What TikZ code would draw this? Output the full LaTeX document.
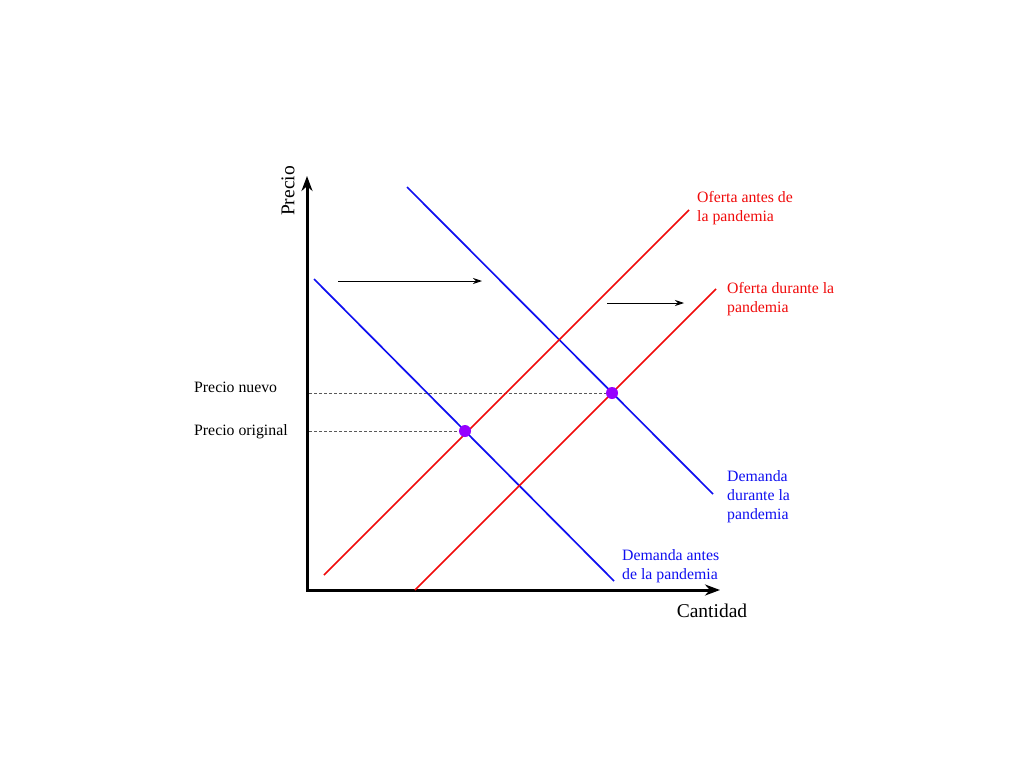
\documentclass[tikz,border=0pt]{standalone}
\usepackage{fontspec}
\setmainfont{Liberation Serif}
\usetikzlibrary{arrows.meta}
\definecolor{supred}{RGB}{240,10,10}
\definecolor{demblue}{RGB}{15,15,240}
\definecolor{eqpurple}{RGB}{150,0,255}
\tikzset{
  axis/.style={line width=3pt, {Stealth[length=15pt,width=11pt]}-{Stealth[length=15pt,width=11pt]}},
  supply/.style={draw=supred, line width=1.7pt},
  demand/.style={draw=demblue, line width=1.7pt},
  shiftarrow/.style={line width=0.9pt, -{Stealth[length=9pt,width=6pt]}},
  guide/.style={densely dashed, line width=0.5pt, gray!70!black},
  eqdot/.style={circle, fill=eqpurple, inner sep=0pt, minimum size=12pt},
  lab/.style={font=\fontsize{15.8}{19}\selectfont, align=left, anchor=north west, inner sep=0pt},
  axlab/.style={font=\fontsize{19.5}{23}\selectfont, inner sep=0pt}
}
\begin{document}
\begin{tikzpicture}[x=1pt,y=-1pt]
\useasboundingbox (0,0) rectangle (1024,768);
% axes
\coordinate (ytop) at (307,176);
\coordinate (orig) at (307,590);
\coordinate (xend) at (720,590);
\draw[axis] (ytop) -- (orig) -- (xend);
\node[axlab, rotate=90] (precio) at (288,191) {Precio};
\node[axlab] (cantidad) at (712,611) {Cantidad};
% curves
\coordinate (db1) at (314,279); \coordinate (db2) at (614,581);
\coordinate (dd1) at (407,187); \coordinate (dd2) at (713,494);
\coordinate (sb1) at (324,575); \coordinate (sb2) at (689,210);
\coordinate (sd1) at (415,590); \coordinate (sd2) at (716,289);
\coordinate (ga) at (309,393); \coordinate (gb) at (309,431);
\node (e1) at (465,431) {};
\node (e2) at (612,393) {};
\draw[guide] (ga) -- (e2.center);
\draw[guide] (gb) -- (e1.center);
\draw[demand] (db1) -- (db2);
\draw[demand] (dd1) -- (dd2);
\draw[supply] (sb1) -- (sb2);
\draw[supply] (sd1) -- (sd2);
\node[eqdot] (p1) at (e1.center) {};
\node[eqdot] (p2) at (e2.center) {};
% shift arrows
\coordinate (a1s) at (338,281); \coordinate (a1e) at (482,281);
\coordinate (a2s) at (607,303); \coordinate (a2e) at (684,303);
\draw[shiftarrow] (a1s) -- (a1e);
\draw[shiftarrow] (a2s) -- (a2e);
% labels
\node[lab, anchor=base west] (pn) at (194,392) {Precio nuevo};
\node[lab, anchor=base west] (po) at (194,435) {Precio original};
\node[lab, text=supred] (ob) at (697,191) {Oferta antes de\\la pandemia};
\node[lab, text=supred] (od) at (727,282) {Oferta durante la\\pandemia};
\node[lab, text=demblue] (dd) at (727,470) {Demanda\\durante la\\pandemia};
\node[lab, text=demblue] (db) at (622,549) {Demanda antes\\de la pandemia};
\end{tikzpicture}
\end{document}
